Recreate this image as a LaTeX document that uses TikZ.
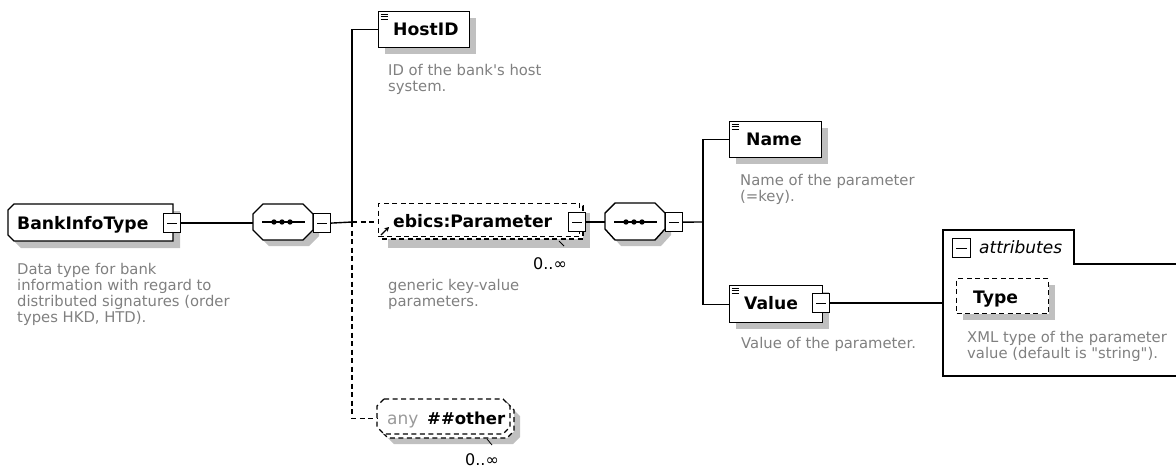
\documentclass[tikz,border=0pt]{standalone}
\usepackage{fontspec}
\setmainfont{DejaVu Sans}[Ligatures=TeXOff]
\usetikzlibrary{arrows.meta}
\definecolor{shadegray}{RGB}{192,192,192}
\definecolor{descgray}{RGB}{128,128,128}
\newcommand\desclines[1]{\begin{tabular}[t]{@{}l@{}}#1\end{tabular}}
\tikzset{
 lw/.style={line width=1.4pt},
 boxframe/.style={draw=black, line width=1.4pt, fill=white, inner sep=0pt, anchor=north west},
 dboxframe/.style={boxframe, line width=1.3pt, dash pattern=on 5pt off 3.5pt},
 ghost/.style={inner sep=0pt, anchor=north west},
 minusbox/.style={draw=black, line width=1.2pt, fill=white, inner sep=0pt, anchor=north west,
   minimum width=17pt, minimum height=19pt,
   path picture={\draw[line width=1.2pt] ([xshift=3.5pt]path picture bounding box.west) -- ([xshift=-3.5pt]path picture bounding box.east);}},
 elname/.style={font=\fontsize{17.2}{20}\selectfont\bfseries, anchor=base west, inner sep=0pt},
 desc/.style={font=\fontsize{14.8}{16}\selectfont, text=descgray, anchor=base west, inner sep=0pt},
 occurs/.style={font=\fontsize{16}{18}\selectfont, anchor=base west, inner sep=0pt},
 conn/.style={line width=1.4pt},
 dconn/.style={line width=1.3pt, dash pattern=on 5pt off 3.5pt},
 icon/.style={line width=0.8pt},
}
\begin{document}
\begin{tikzpicture}[x=1pt,y=-1pt]
\useasboundingbox (0,0) rectangle (1176,469);

% ---------- BankInfoType ----------
\fill[shadegray] (21,211) -- (180,211) -- (180,248) -- (21,248) -- (15,242) -- (15,217) -- cycle;
\draw[lw, fill=white] (14,204) -- (173,204) -- (173,241) -- (14,241) -- (8,235) -- (8,210) -- cycle;
\node[ghost, minimum width=165pt, minimum height=37pt] (bitbox) at (8,204) {};
\node[elname] (bit) at (17,229) {BankInfoType};
\node[minusbox] (bitc) at (163,213) {};
\node[desc] (bitdesc) at (17,274) {\desclines{Data type for bank\\information with regard to\\distributed signatures (order\\types HKD, HTD).}};

% ---------- sequence 1 ----------
\fill[shadegray] (269,210) -- (309,210) -- (319,220) -- (319,236) -- (309,246) -- (269,246) -- (259,236) -- (259,220) -- cycle;
\draw[lw, fill=white] (263,204) -- (303,204) -- (313,214) -- (313,230) -- (303,240) -- (263,240) -- (253,230) -- (253,214) -- cycle;
\node[ghost, minimum width=60pt, minimum height=36pt] (seq1) at (253,204) {};
\draw[conn] (262,222) -- (305,222);
\fill (274,222) circle (2.7pt) (282,222) circle (2.7pt) (290,222) circle (2.7pt);
\node[minusbox] (seq1c) at (313,213) {};
\draw[conn] (bitc.east) -- (bitc.east -| seq1.west);

\coordinate (j1) at (352,222);
\draw[conn] (seq1c.east) -- (j1);

% ---------- HostID ----------
\fill[shadegray] (385,18) rectangle (476,54);
\node[boxframe, minimum width=91pt, minimum height=36pt] (host) at (378,11) {};
\draw[icon] (380.5,14) -- (388,14) (380.5,16.5) -- (388,16.5) (380.5,19) -- (388,19);
\node[elname] (hostname) at (393,35) {HostID};
\node[desc] (hostdesc) at (388,75) {\desclines{ID of the bank's host\\system.}};
\draw[conn] (j1) |- (host.west);

% ---------- ebics:Parameter ----------
\fill[shadegray] (388,213) rectangle (590,248);
\draw[dboxframe] (381,206) rectangle (583,239);
\node[dboxframe, minimum width=201pt, minimum height=33pt] (param) at (378,203) {};
\node[minusbox] (paramc) at (568,212) {};
\node[elname] (paramname) at (393,227) {ebics:Parameter};
\draw[line width=1.3pt, -{Stealth[length=4.5pt,width=5pt]}] (381,235) -- (389,227);
\draw[line width=0.8pt] (559,241) -- (564,246);
\node[occurs] (paramocc) at (533,269) {0..∞};
\node[desc] (paramdesc) at (388,290) {\desclines{generic key-value\\parameters.}};
\draw[dconn] (j1) -- (j1 -| param.west);

% ---------- any ##other ----------
\fill[shadegray] (394,409) -- (513,409) -- (520,416) -- (520,437) -- (513,444) -- (394,444) -- (387,437) -- (387,416) -- cycle;
\draw[dboxframe] (388,403) -- (507,403) -- (514,410) -- (514,431) -- (507,438) -- (388,438) -- (381,431) -- (381,410) -- cycle;
\draw[dboxframe] (384,399) -- (503,399) -- (510,406) -- (510,427) -- (503,434) -- (384,434) -- (377,427) -- (377,406) -- cycle;
\node[ghost, minimum width=133pt, minimum height=36pt] (any) at (377,400) {};
\node[anchor=base west, inner sep=0pt, font=\fontsize{17}{20}\selectfont, text=descgray!80] (anyword) at (387,424) {any};
\node[elname, font=\fontsize{16.5}{20}\selectfont\bfseries] (anyother) at (427,424) {\#\#other};
\draw[line width=0.8pt] (487,439) -- (492,445);
\node[occurs] (anyocc) at (465,465) {0..∞};
\draw[dconn] (j1) |- (any.west);

% ---------- sequence 2 ----------
\fill[shadegray] (621,209) -- (661,209) -- (671,219) -- (671,235) -- (661,246) -- (621,246) -- (611,235) -- (611,219) -- cycle;
\draw[lw, fill=white] (615,203) -- (655,203) -- (665,213) -- (665,229) -- (655,240) -- (615,240) -- (605,229) -- (605,213) -- cycle;
\node[ghost, minimum width=60pt, minimum height=37pt] (seq2) at (605,203) {};
\draw[conn] (614,222) -- (657,222);
\fill (626,222) circle (2.7pt) (634,222) circle (2.7pt) (642,222) circle (2.7pt);
\node[minusbox] (seq2c) at (665,212) {};
\draw[conn] (paramc.east) -- (paramc.east -| seq2.west);
\coordinate (j2) at (703,222);
\draw[conn] (seq2c.east) -- (j2);

% ---------- Name ----------
\fill[shadegray] (736,128) rectangle (828,164);
\node[boxframe, minimum width=92pt, minimum height=36pt] (namebox) at (729,121) {};
\draw[icon] (731.5,124) -- (739,124) (731.5,126.5) -- (739,126.5) (731.5,129) -- (739,129);
\node[elname] (namelabel) at (746,145) {Name};
\node[desc] (namedesc) at (740,185) {\desclines{Name of the parameter\\(=key).}};
\draw[conn] (j2) |- (namebox.west);

% ---------- Value ----------
\fill[shadegray] (736,292) rectangle (829,329);
\node[boxframe, minimum width=93pt, minimum height=37pt] (valbox) at (729,285) {};
\draw[icon] (731.5,288) -- (739,288) (731.5,290.5) -- (739,290.5) (731.5,293) -- (739,293);
\node[elname] (vallabel) at (744,309) {Value};
\node[minusbox] (valc) at (812,293) {};
\node[desc] (valdesc) at (741,348) {\desclines{Value of the parameter.}};
\draw[conn] (j2) |- (valbox.west);

% ---------- attributes ----------
\node[ghost, minimum width=233pt, minimum height=146pt] (attr) at (943,230) {};
\draw[lw] (1180,376) -- (943,376) -- (943,230) -- (1074,230) -- (1074,264) -- (1180,264);
\node[minusbox, minimum width=18pt] (attrc) at (952,238) {};
\node[anchor=base west, inner sep=0pt, font=\fontsize{17}{20}\selectfont\itshape] (attrlabel) at (979,253) {attributes};
\draw[conn] (valc.east) -- (valc.east -| attr.west);

\fill[shadegray] (963,285) rectangle (1055,320);
\node[dboxframe, minimum width=92pt, minimum height=35pt] (typebox) at (956,278) {};
\node[elname] (typelabel) at (973,303) {Type};
\node[desc] (typedesc) at (967,342) {\desclines{XML type of the parameter\\value (default is "string").}};
\end{tikzpicture}
\end{document}
